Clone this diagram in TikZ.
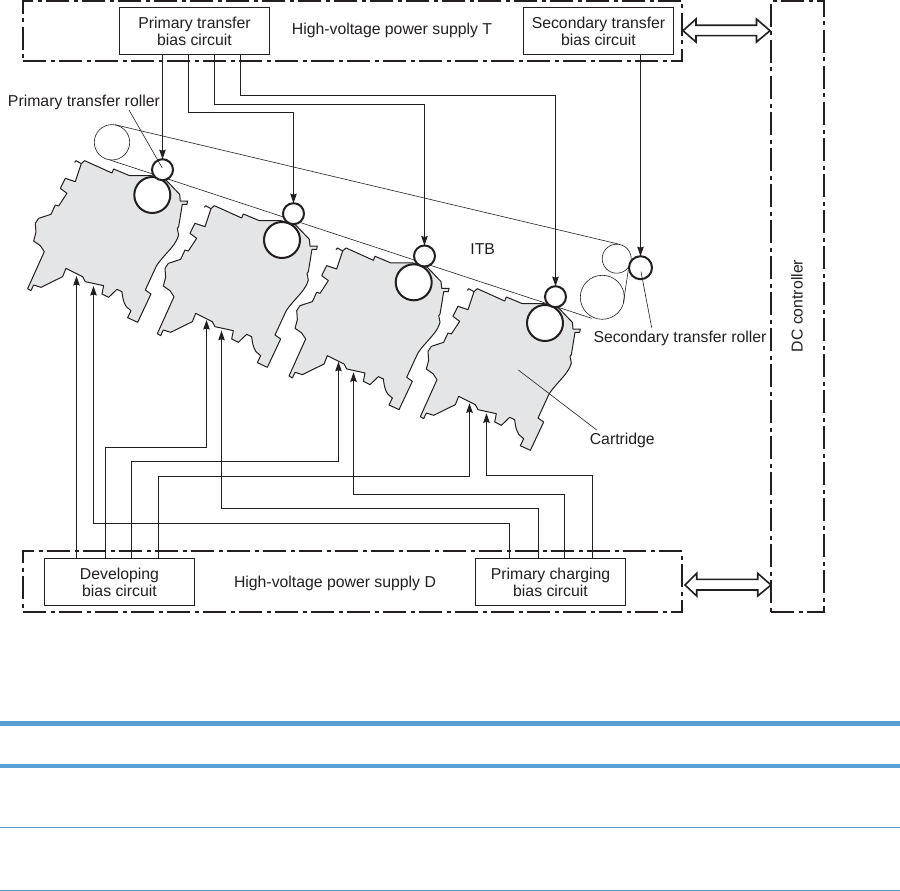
\documentclass[tikz,border=0pt]{standalone}
\usepackage{fontspec}
\setmainfont{Liberation Sans}
\usetikzlibrary{arrows.meta}
\definecolor{ink}{HTML}{231F20}
\definecolor{cartgrey}{HTML}{E4E5E6}
\definecolor{rule}{HTML}{5A9FD4}
\tikzset{
  x=1pt,y=-1pt,
  every node/.style={font=\fontsize{15.8}{17}\selectfont,text=ink,inner sep=0pt,outer sep=0pt},
  psu/.style={draw=ink,line width=2pt,dash pattern=on 23pt off 4.5pt on 4pt off 4.5pt},
  circuit/.style={draw=ink,line width=1pt,fill=white,minimum width=150pt,minimum height=47pt,align=center},
  wire/.style={draw=ink,line width=1pt},
  arrowwire/.style={wire,-{Stealth[length=9.5pt,width=6.5pt,inset=1pt]}},
  thin line/.style={draw=ink,line width=.6pt},
  bigroller/.style={circle,draw=ink,line width=2pt,fill=white,minimum size=36pt},
  smallroller/.style={circle,draw=ink,line width=2pt,fill=white,minimum size=21pt},
  idler/.style={circle,draw=ink,line width=.6pt},
  busarrow/.style={draw=ink,line width=1.6pt,fill=white,line join=miter},
  cart/.style={draw=ink,line width=1pt,fill=cartgrey,line join=round},
}
\newcommand{\cartshape}[2]{%
  \begin{scope}[shift={(#1-132,#2-50)},x=.33333pt,y=-.33333pt]
    \path[cart] (163,52) -- (167,47) -- (183,56) -- (193,47) -- (275,84) -- (280,72) -- (328,92) -- (393,92)
      -- (437,105) -- (478,148) -- (480,168) -- (502,168) -- (500,178) -- (486,178) -- (475,245) -- (471,250) -- (475,270)
      .. controls (468,295) and (450,312) .. (430,335) .. controls (415,352) and (408,362) .. (405,370)
      -- (375,435) -- (392,447) -- (352,532) -- (322,518) -- (332,497) -- (318,485)
      .. controls (308,470) and (307,455) .. (305,440) -- (290,433) -- (265,457) -- (245,447) -- (250,422) -- (195,410) -- (187,395)
      -- (137,370) -- (127,395) -- (62,427) -- (40,420) -- (32,437) -- (22,431) -- (72,320) -- (60,302) -- (40,288) -- (47,262)
      -- (45,235) -- (55,220) -- (92,208) -- (105,180) -- (115,183) -- (140,145) -- (120,130) -- (135,100) -- (165,110) -- (183,56);
  \end{scope}}
\begin{document}
\begin{tikzpicture}
\useasboundingbox (0,0) rectangle (900,891);
\fill[white] (0,0) rectangle (900,891);

% cartridges
\cartshape{152.3}{195}
\cartshape{282}{240}
\cartshape{413.7}{282.3}
\cartshape{545}{323}

% belt
\node[idler,minimum size=35.4pt] (drive) at (112,142.3) {};
\node[idler,minimum size=29pt] (idlerA) at (616.7,258.7) {};
\node[idler,minimum size=44pt] (idlerB) at (602.3,297.3) {};
\coordinate (beltTopL) at (115,124.7);
\coordinate (beltTopR) at (618.3,244);
\coordinate (beltBotL) at (110,160);
\coordinate (beltBotR) at (591.7,318.3);
\coordinate (beltSideT) at (628.3,270);
\coordinate (beltSideB) at (623.3,303.3);
\draw[thin line] (beltTopL) -- (beltTopR);
\draw[thin line] (beltBotL) -- (beltBotR);
\draw[thin line] (beltSideT) -- (beltSideB);

% rollers
\node[bigroller] (big1) at (152.3,195) {};
\node[smallroller] (small1) at (162.5,169.7) {};
\node[bigroller] (big2) at (282,240) {};
\node[smallroller] (small2) at (293.5,213.7) {};
\node[bigroller] (big3) at (413.7,282.3) {};
\node[smallroller] (small3) at (424.5,256) {};
\node[bigroller] (big4) at (545,323) {};
\node[smallroller] (small4) at (555.5,296.7) {};
\node[circle,draw=ink,line width=2pt,fill=white,minimum size=23pt] (second) at (640.5,267.7) {};

% power supplies and controller
\node[psu,minimum width=659pt,minimum height=60pt] (supplyT) at (352.5,31) {};
\node[psu,minimum width=659pt,minimum height=61pt] (supplyD) at (352.5,581.5) {};
\node[psu,minimum width=53pt,minimum height=611pt] (dc) at (797.5,306.5) {};
\node[rotate=90] (dclabel) at (797,306) {DC controller};

% circuits
\node[circuit] (ptb) at (194.5,31) {Primary transfer\\bias circuit};
\node[circuit] (stb) at (598.5,31) {Secondary transfer\\bias circuit};
\node[circuit] (dev) at (119.5,582) {Developing\\bias circuit};
\node[circuit] (pcb) at (550.5,582) {Primary charging\\bias circuit};

% labels
\node (supT) at (392,30) {High-voltage power supply T};
\node (supD) at (335,583) {High-voltage power supply D};
\node[anchor=west] (lblPTR) at (8,102) {Primary transfer roller};
\node (lblITB) at (482.7,249.3) {ITB};
\node[anchor=west] (lblSTR) at (593.5,338) {Secondary transfer roller};
\node (lblCart) at (622.3,440) {Cartridge};

% leaders
\coordinate (leadPTR) at (129,110);
\coordinate (leadPTRend) at (162.3,168);
\coordinate (leadSTR) at (651.7,327.7);
\coordinate (leadSTRend) at (641,271.7);
\coordinate (leadC) at (596.7,430);
\coordinate (leadCend) at (518.3,370);
\draw[thin line] (leadPTR) -- (leadPTRend);
\draw[thin line] (leadSTR) -- (leadSTRend);
\draw[thin line] (leadC) -- (leadCend);

% upper wires
\draw[arrowwire] (ptb.south -| small1.north) -- (small1.north);
\draw[arrowwire] (188.5,54.5) |- (293.5,112.5) -- (small2.north);
\draw[arrowwire] (214.5,54.5) |- (424.5,104.5) -- (small3.north);
\draw[arrowwire] (240.5,54.5) |- (555.5,95.5) -- (small4.north);
\draw[arrowwire] (stb.south -| second.north) -- (second.north);

% targets on cartridges
\coordinate (d1) at (76.5,276);
\coordinate (c1) at (93.5,286);
\coordinate (d2) at (206.5,320);
\coordinate (c2) at (221.5,330.7);
\coordinate (d3) at (338.5,361.7);
\coordinate (c3) at (353.5,372.3);
\coordinate (d4) at (469.5,403.3);
\coordinate (c4) at (486.5,413.3);

% lower wires
\draw[arrowwire] (dev.north -| d1) -- (d1);
\draw[arrowwire] (105.5,558.5) |- (206.5,447.5) -- (d2);
\draw[arrowwire] (131.5,558.5) |- (338.5,461.5) -- (d3);
\draw[arrowwire] (158.5,558.5) |- (469.5,476.5) -- (d4);
\draw[arrowwire] (509.5,558.5) |- (93.5,523.5) -- (c1);
\draw[arrowwire] (538.5,558.5) |- (221.5,508.5) -- (c2);
\draw[arrowwire] (564.5,558.5) |- (353.5,494.5) -- (c3);
\draw[arrowwire] (592.5,558.5) |- (486.5,475.5) -- (c4);

% double arrows
\draw[busarrow] (683,30.7) -- (696,19) -- (696,25.3) -- (756.5,25.3) -- (756.5,19) -- (770,30.7) -- (756.5,42) -- (756.5,35.6) -- (696,35.6) -- (696,42) -- cycle;
\draw[busarrow] (685,585) -- (696.7,573.3) -- (696.7,579.3) -- (757.7,579.3) -- (757.7,573.3) -- (771,585) -- (757.7,596) -- (757.7,590) -- (696.7,590) -- (696.7,596) -- cycle;

% rules
\draw[rule,line width=4.7pt] (0,723.3) -- (899.5,723.3);
\draw[rule,line width=3.7pt] (0,765.7) -- (899.5,765.7);
\draw[rule,line width=.9pt] (0,827.3) -- (899.5,827.3);
\draw[rule,line width=.9pt] (0,890.3) -- (899.5,890.3);
\end{tikzpicture}
\end{document}
